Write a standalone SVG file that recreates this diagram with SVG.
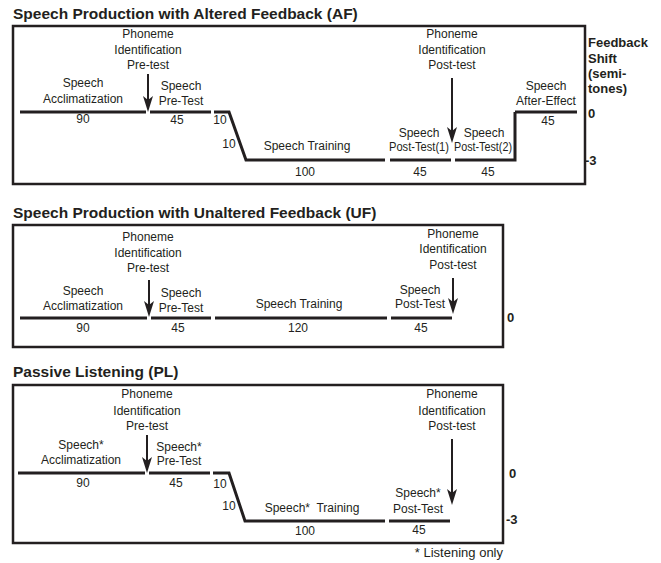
<svg xmlns="http://www.w3.org/2000/svg" width="661" height="563" viewBox="0 0 661 563">
<style>
.h{font-family:"Liberation Sans",Arial,sans-serif;font-weight:bold;font-size:15.5px;fill:#231f20}
.t{font-family:"Liberation Sans",Arial,sans-serif;font-size:12px;fill:#231f20;text-anchor:middle}
.b{font-family:"Liberation Sans",Arial,sans-serif;font-weight:bold;font-size:13px;fill:#231f20}
.n{font-family:"Liberation Sans",Arial,sans-serif;font-size:13px;fill:#231f20;text-anchor:end}
.box{fill:none;stroke:#231f20;stroke-width:2.5}
.ln{fill:none;stroke:#231f20;stroke-width:3;stroke-linejoin:miter}
.ar{fill:none;stroke:#231f20;stroke-width:2;marker-end:url(#ah)}
</style>
<defs>
<marker id="ah" viewBox="0 0 16 10" refX="10" refY="5" markerWidth="16" markerHeight="10" markerUnits="userSpaceOnUse" orient="auto">
<path d="M0,0 L16,5 L0,10 L4,5 z" fill="#231f20"/>
</marker>
</defs>

<!-- Panel 1: AF -->
<g id="panel-af">
<text class="h" x="13" y="18.5">Speech Production with Altered Feedback (AF)</text>
<rect class="box" x="13" y="26" width="572" height="158"/>
<g id="af-acclim"><path class="ln" d="M20,112 H146"/><text class="t" x="83" y="87">Speech</text><text class="t" x="83" y="103">Acclimatization</text><text class="t" x="83" y="123">90</text></g>
<g id="af-pretest"><path class="ln" d="M150,112 H211"/><text class="t" x="181" y="90">Speech</text><text class="t" x="181" y="105">Pre-Test</text><text class="t" x="177" y="124">45</text></g>
<g id="af-training"><path class="ln" d="M214,112 H229 L246,160 H385"/><text class="t" x="220" y="124">10</text><text class="t" x="229" y="148">10</text><text class="t" x="307" y="150">Speech Training</text><text class="t" x="305" y="176">100</text></g>
<g id="af-post1"><path class="ln" d="M390,160 H451"/><text class="t" x="419" y="137">Speech</text><text class="t" x="419" y="151" textLength="60" lengthAdjust="spacingAndGlyphs">Post-Test(1)</text><text class="t" x="420" y="176">45</text></g>
<g id="af-post2"><path class="ln" d="M455,160 H515 V112"/><text class="t" x="484" y="137">Speech</text><text class="t" x="483" y="151" textLength="58" lengthAdjust="spacingAndGlyphs">Post-Test(2)</text><text class="t" x="488" y="176">45</text></g>
<g id="af-after"><path class="ln" d="M515,112 H577"/><text class="t" x="546" y="90">Speech</text><text class="t" x="546" y="105">After-Effect</text><text class="t" x="548" y="125">45</text></g>
<g id="af-phon-pre"><text class="t" x="148" y="38">Phoneme</text><text class="t" x="148" y="54">Identification</text><text class="t" x="148" y="69">Pre-test</text></g>
<g id="af-phon-post"><text class="t" x="452" y="38">Phoneme</text><text class="t" x="452" y="54">Identification</text><text class="t" x="452" y="69">Post-test</text></g>
<g id="af-axis"><text class="b" x="588" y="47">Feedback</text><text class="b" x="588" y="63">Shift</text><text class="b" x="588" y="78">(semi-</text><text class="b" x="588" y="93">tones)</text><text class="b" x="588" y="118">0</text><text class="b" x="585" y="165">-3</text></g>
</g>

<!-- Panel 2: UF -->
<g id="panel-uf">
<text class="h" x="13" y="218">Speech Production with Unaltered Feedback (UF)</text>
<rect class="box" x="13" y="225" width="490" height="122"/>
<g id="uf-acclim"><path class="ln" d="M20,318 H147"/><text class="t" x="83" y="295">Speech</text><text class="t" x="83" y="310">Acclimatization</text><text class="t" x="83" y="332">90</text></g>
<g id="uf-pretest"><path class="ln" d="M151,318 H211"/><text class="t" x="181" y="297">Speech</text><text class="t" x="181" y="312">Pre-Test</text><text class="t" x="178" y="332">45</text></g>
<g id="uf-training"><path class="ln" d="M215,318 H387"/><text class="t" x="299" y="308">Speech Training</text><text class="t" x="298" y="332">120</text></g>
<g id="uf-post"><path class="ln" d="M391,318 H452"/><text class="t" x="420" y="294">Speech</text><text class="t" x="420" y="308">Post-Test</text><text class="t" x="421" y="332">45</text></g>
<g id="uf-phon-pre"><text class="t" x="148" y="241">Phoneme</text><text class="t" x="148" y="257">Identification</text><text class="t" x="148" y="272">Pre-test</text></g>
<g id="uf-phon-post"><text class="t" x="453" y="238">Phoneme</text><text class="t" x="453" y="253">Identification</text><text class="t" x="453" y="269">Post-test</text></g>
<text class="b" x="507" y="322">0</text>
</g>

<!-- Panel 3: PL -->
<g id="panel-pl">
<text class="h" x="13" y="377">Passive Listening (PL)</text>
<rect class="box" x="13" y="385" width="490" height="158"/>
<g id="pl-acclim"><path class="ln" d="M18,473 H145"/><text class="t" x="81" y="449">Speech*</text><text class="t" x="81" y="464">Acclimatization</text><text class="t" x="83" y="487">90</text></g>
<g id="pl-pretest"><path class="ln" d="M149,473 H210"/><text class="t" x="179" y="451">Speech*</text><text class="t" x="179" y="465">Pre-Test</text><text class="t" x="176" y="487">45</text></g>
<g id="pl-training"><path class="ln" d="M213,473 H229 L245,521 H385"/><text class="t" x="220" y="488">10</text><text class="t" x="229" y="510">10</text><text class="t" x="312" y="512" style="white-space:pre">Speech*  Training</text><text class="t" x="305" y="535">100</text></g>
<g id="pl-post"><path class="ln" d="M389,521 H450"/><text class="t" x="418" y="497">Speech*</text><text class="t" x="418" y="513">Post-Test</text><text class="t" x="419" y="534">45</text></g>
<g id="pl-phon-pre"><text class="t" x="147" y="398">Phoneme</text><text class="t" x="147" y="415">Identification</text><text class="t" x="147" y="430">Pre-test</text></g>
<g id="pl-phon-post"><text class="t" x="452" y="398">Phoneme</text><text class="t" x="452" y="415">Identification</text><text class="t" x="452" y="430">Post-test</text></g>
<text class="b" x="509" y="478">0</text>
<text class="b" x="506" y="524">-3</text>
<text class="n" x="503" y="557">* Listening only</text>
</g>

<!-- Connectors -->
<g id="connectors">
<line class="ar" x1="148" y1="74" x2="148" y2="106"/>
<line class="ar" x1="452" y1="78" x2="452" y2="137"/>
<line class="ar" x1="149" y1="280" x2="149" y2="311"/>
<line class="ar" x1="453" y1="278" x2="453" y2="308"/>
<line class="ar" x1="147" y1="435" x2="147" y2="467"/>
<line class="ar" x1="452" y1="439" x2="452" y2="499"/>
</g>
</svg>
